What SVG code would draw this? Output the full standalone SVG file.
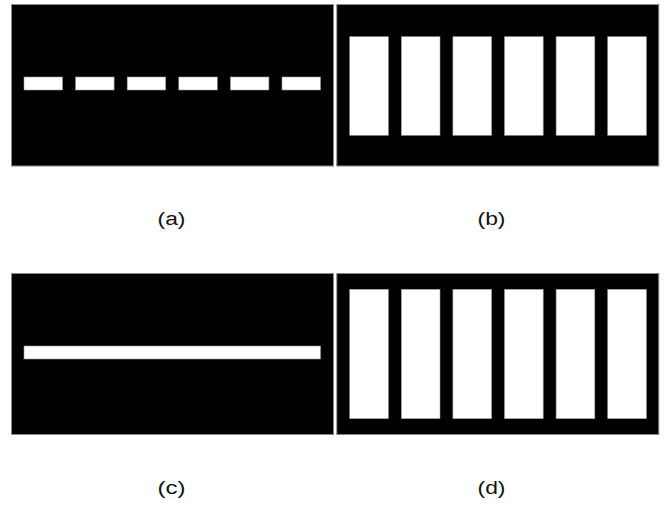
<svg xmlns="http://www.w3.org/2000/svg" width="668" height="507" viewBox="0 0 668 507">
  <style>
    .panel { fill: #000; stroke: #8a8a8a; stroke-width: 1; }
    .bar { fill: #fff; stroke: #9a9a9a; stroke-width: 0.6; }
    .label { font-family: "Liberation Sans", Arial, sans-serif; font-size: 18px; fill: #111; text-anchor: middle; }
  </style>
  <rect width="668" height="507" fill="#fff"/>

  <!-- (a) dashed line of short bars -->
  <g id="panel-a">
    <rect class="panel" x="11.5" y="4.5" width="322" height="161.5"/>
    <rect class="bar" x="24" y="77" width="38.5" height="13"/>
    <rect class="bar" x="75.6" y="77" width="38.5" height="13"/>
    <rect class="bar" x="127.2" y="77" width="38.5" height="13"/>
    <rect class="bar" x="178.8" y="77" width="38.5" height="13"/>
    <rect class="bar" x="230.4" y="77" width="38.5" height="13"/>
    <rect class="bar" x="282" y="77" width="38.5" height="13"/>
    <text class="label" x="171.5" y="225" textLength="28" lengthAdjust="spacingAndGlyphs">(a)</text>
  </g>

  <!-- (b) six tall bars -->
  <g id="panel-b">
    <rect class="panel" x="336.8" y="4.5" width="322" height="161.5"/>
    <rect class="bar" x="349.7" y="36.7" width="38.7" height="98.6"/>
    <rect class="bar" x="401.3" y="36.7" width="38.7" height="98.6"/>
    <rect class="bar" x="452.9" y="36.7" width="38.7" height="98.6"/>
    <rect class="bar" x="504.5" y="36.7" width="38.7" height="98.6"/>
    <rect class="bar" x="556.1" y="36.7" width="38.7" height="98.6"/>
    <rect class="bar" x="607.7" y="36.7" width="38.7" height="98.6"/>
    <text class="label" x="491.5" y="225" textLength="28" lengthAdjust="spacingAndGlyphs">(b)</text>
  </g>

  <!-- (c) one continuous bar -->
  <g id="panel-c">
    <rect class="panel" x="11.5" y="273.5" width="322" height="161"/>
    <rect class="bar" x="24" y="346" width="296.5" height="13"/>
    <text class="label" x="171.5" y="494" textLength="28" lengthAdjust="spacingAndGlyphs">(c)</text>
  </g>

  <!-- (d) six taller bars -->
  <g id="panel-d">
    <rect class="panel" x="336.8" y="273.5" width="322" height="161"/>
    <rect class="bar" x="349.7" y="289.3" width="38.7" height="129.4"/>
    <rect class="bar" x="401.3" y="289.3" width="38.7" height="129.4"/>
    <rect class="bar" x="452.9" y="289.3" width="38.7" height="129.4"/>
    <rect class="bar" x="504.5" y="289.3" width="38.7" height="129.4"/>
    <rect class="bar" x="556.1" y="289.3" width="38.7" height="129.4"/>
    <rect class="bar" x="607.7" y="289.3" width="38.7" height="129.4"/>
    <text class="label" x="491.5" y="494" textLength="28" lengthAdjust="spacingAndGlyphs">(d)</text>
  </g>

  <g id="connectors"/>
</svg>
